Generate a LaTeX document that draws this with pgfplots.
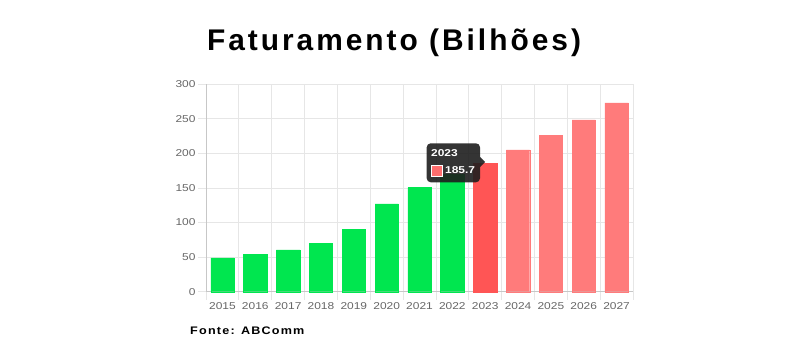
\documentclass[border=0pt]{standalone}
\usepackage{fontspec}
\setmainfont{Liberation Sans}[FakeStretch=1.2]
\newfontfamily\titlefont{Liberation Sans}[LetterSpace=10]
\newfontfamily\footfont{Liberation Sans}[FakeStretch=1.15, LetterSpace=11]
\usepackage{pgfplots}
\pgfplotsset{compat=1.18}
\definecolor{bargreen}{HTML}{00E64F}
\definecolor{barred}{HTML}{FF5555}
\definecolor{barpink}{HTML}{FF7B7B}
\definecolor{gridc}{HTML}{E6E6E6}
\definecolor{tickc}{HTML}{666666}
\definecolor{tipbg}{HTML}{1E1E1E}
\begin{document}
\begin{tikzpicture}[x=1bp,y=1bp]
\path[use as bounding box] (0,0) rectangle (800,350);
\begin{axis}[
  at={(206bp,58.3bp)}, anchor=south west,
  scale only axis, width=427bp, height=207.4bp,
  xmin=-0.5, xmax=12.5, ymin=0, ymax=300,
  ybar, bar shift=0pt, bar width=0.71,
  xtick={0,...,12},
  xticklabels={2015,2016,2017,2018,2019,2020,2021,2022,2023,2024,2025,2026,2027},
  minor xtick={-0.5,0.5,...,12.5},
  ytick={0,50,...,300},
  xminorgrids, ymajorgrids,
  grid style={draw=gridc, line width=0.8bp},
  minor grid style={draw=gridc, line width=0.8bp},
  axis lines*=left,
  axis line style={draw=gridc!70!gray, line width=0.8bp},
  tick align=outside,
  major tick length=8bp, minor tick length=8bp,
  x tick style={draw=none},
  minor x tick style={draw=gridc, line width=0.8bp},
  y tick style={draw=gridc, line width=0.8bp},
  every tick label/.append style={font=\fontsize{10}{12}\selectfont, text=tickc},
  /pgf/number format/assume math mode=true,
  xticklabel style={yshift=1bp},
  yticklabel style={xshift=1bp},
  clip=false,
]
\addplot[fill=bargreen, draw=bargreen] coordinates {(0,48.8) (1,54.0) (2,60.5) (3,69.9) (4,90.2) (5,126.9) (6,150.6) (7,169.6)};
\addplot[fill=barred, draw=barred] coordinates {(8,185.7)};
\addplot[fill=barpink, draw=barpink] coordinates {(9,205.1) (10,225.8) (11,248.5) (12,273.2)};
\end{axis}
% title
\node[anchor=base, inner sep=0pt, font=\titlefont\bfseries\fontsize{30}{34}\selectfont] at (394,300) {Faturamento (Bilhões)};
% footer
\node[anchor=base west, inner sep=0pt, font=\footfont\bfseries\fontsize{11}{13}\selectfont] at (190,15.7) {Fonte: ABComm};
% tooltip
\fill[tipbg, opacity=0.9, rounded corners=4bp] (426.7,350-182.3) rectangle (480,350-143.3);
\fill[tipbg, opacity=0.9] (480,350-157) -- (485,350-162) -- (480,350-167) -- cycle;
\node[anchor=base west, inner sep=0pt, text=white, font=\bfseries\fontsize{10}{12}\selectfont] at (431,350-156.7) {2023};
\fill[white] (431.2,350-177.2) rectangle (442.8,350-165.2);
\fill[barred!85!white] (432.2,350-176.2) rectangle (441.8,350-166.2);
\node[anchor=base west, inner sep=0pt, text=white, font=\bfseries\fontsize{10}{12}\selectfont] at (445,350-173.3) {185.7};
\end{tikzpicture}
\end{document}
